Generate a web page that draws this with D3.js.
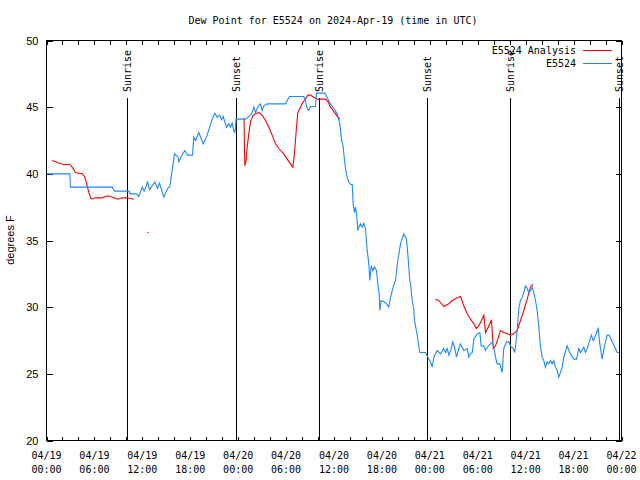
<!DOCTYPE html>
<html>
<head>
<meta charset="utf-8">
<script src="https://cdn.jsdelivr.net/npm/d3@7"></script>
<style>
  body { margin: 0; background: #fff; }
  text { fill: #000; }
</style>
</head>
<body>
<svg id="dewpoint_svg" width="640" height="480"></svg>
<script>
// Observed dew point for E5524, hours since 2024-04-19 00:00 UTC and degrees F
const obsHours = [0.0, 2.92, 3.0, 8.23, 8.51, 10.33, 10.52, 11.27, 11.56, 11.98, 12.23, 12.68, 12.9, 13.56, 13.9,
  14.15, 14.69, 15.15, 15.44, 15.65, 16.03, 16.49, 16.57, 16.87, 17.32, 17.66, 18.28, 18.44, 18.66, 19.07,
  19.62, 20.04, 20.75, 21.08, 21.38, 21.7, 21.91, 22.13, 22.54, 22.83, 23.04, 23.25, 23.45, 23.58, 23.7,
  23.73, 24.92, 25.54, 25.76, 25.96, 26.17, 26.38, 26.58, 26.8, 27.0, 27.21, 27.64, 29.93, 30.14, 30.43,
  32.22, 32.43, 32.64, 32.84, 33.06, 33.68, 33.81, 34.85, 35.15, 35.56, 35.98, 36.4, 36.73, 36.9, 37.15,
  37.32, 37.44, 37.65, 37.85, 38.07, 38.28, 38.4, 38.57, 38.69, 38.82, 38.9, 38.98, 39.11, 39.32, 39.53,
  39.73, 39.94, 40.16, 40.36, 40.48, 40.66, 40.86, 41.07, 41.32, 41.49, 41.66, 41.74, 41.91, 42.24, 42.58,
  42.86, 43.08, 43.41, 43.7, 43.99, 44.33, 44.74, 44.95, 45.08, 45.24, 45.49, 45.58, 45.79, 45.99, 46.08,
  46.42, 46.74, 47.46, 47.75, 48.08, 48.3, 48.5, 48.92, 49.34, 49.75, 49.96, 50.17, 50.38, 50.68, 50.88,
  51.09, 51.34, 51.63, 51.84, 52.05, 52.25, 52.68, 52.88, 53.09, 53.31, 53.51, 53.93, 54.26, 54.43, 54.76,
  54.97, 55.26, 55.6, 55.81, 56.01, 56.22, 56.43, 56.76, 57.06, 57.26, 57.6, 57.89, 58.1, 58.44, 58.64,
  58.94, 59.14, 59.35, 59.57, 59.77, 59.98, 60.19, 60.39, 60.61, 60.82, 61.02, 61.23, 61.44, 61.65, 61.86,
  62.07, 62.27, 62.48, 62.7, 62.9, 63.11, 63.32, 63.52, 63.74, 63.95, 64.15, 64.36, 64.58, 64.78, 65.2,
  65.4, 65.7, 66.03, 66.37, 66.65, 66.87, 67.28, 67.49, 67.78, 68.21, 68.46, 68.66, 68.96, 69.08, 69.28,
  69.58, 69.87, 70.21, 70.46, 70.83, 71.25, 71.46, 71.67];
const obsDewpt = [40.0, 40.0, 39.0, 39.0, 38.7, 38.7, 38.5, 38.5, 38.3, 39.0, 38.7, 39.4, 38.8, 39.4, 38.9,
  39.3, 38.25, 38.9, 39.05, 39.9, 41.5, 41.25, 40.9, 41.3, 41.75, 41.4, 41.4, 42.75, 42.5, 43.1,
  42.25, 42.75, 44.1, 44.55, 44.25, 44.4, 44.05, 44.3, 43.5, 43.75, 43.5, 43.8, 43.25, 43.1, 43.75,
  44.1, 44.1, 44.4, 44.6, 45.0, 44.6, 44.9, 45.1, 45.25, 44.75, 45.1, 45.25, 45.25, 45.5, 45.8,
  45.8, 45.4, 44.9, 44.75, 45.05, 45.05, 46.05, 46.05, 45.7, 45.25, 44.9, 44.5, 43.75, 42.75, 42.0,
  41.0, 40.4, 39.75, 39.4, 39.2, 39.2, 37.75, 37.1, 37.5, 37.0, 36.5, 35.75, 36.0, 36.25, 36.0,
  36.3, 35.9, 34.25, 33.25, 32.0, 33.1, 32.75, 33.0, 32.75, 31.75, 31.0, 29.75, 30.5, 30.4, 30.25,
  30.0, 30.75, 31.5, 32.0, 33.5, 34.75, 35.5, 35.25, 35.1, 34.0, 32.0, 31.75, 30.5, 29.9, 29.0,
  27.9, 26.6, 26.6, 26.25, 25.9, 25.5, 26.25, 26.75, 26.5, 26.9, 26.6, 26.9, 26.4, 26.9, 27.4,
  27.0, 26.25, 26.9, 27.25, 27.0, 26.75, 26.9, 26.25, 26.5, 26.6, 27.6, 28.0, 28.1, 27.1, 27.1,
  26.75, 27.05, 27.25, 27.4, 27.0, 26.25, 25.75, 25.75, 25.1, 26.9, 27.4, 27.4, 27.1, 26.9, 26.6,
  28.25, 29.9, 30.5, 30.75, 31.1, 31.6, 31.4, 31.1, 31.25, 31.5, 31.1, 30.5, 29.75, 28.5, 27.0,
  26.25, 26.0, 25.5, 25.9, 25.75, 26.0, 25.75, 26.0, 25.5, 25.25, 24.75, 25.1, 25.5, 26.25, 27.1,
  26.75, 26.4, 26.1, 26.1, 26.9, 26.6, 27.0, 26.6, 27.0, 27.9, 27.5, 27.75, 28.25, 28.4, 27.25,
  26.1, 27.1, 27.9, 27.9, 27.4, 26.9, 26.6, 26.6];

// Analysis dew point for E5524 (null marks a gap in the analysis)
const anaHours = [0.71, 1.13, 1.54, 2.17, 2.92, 3.22, 3.63, 4.04, 4.47, 4.76, 4.97, 5.3, 5.6, 6.14, 6.97,
  7.6, 8.01, 8.43, 8.93, 9.48, 10.1, 10.93, null,
  12.65, 12.8, null,
  24.73, 24.83, 25.0, 25.13, 25.33, 25.54, 25.88, 26.3, 26.58, 27.0, 27.42, 27.84, 28.26, 28.68, 29.09,
  29.71, 30.14, 30.55, 30.84, 31.05, 31.27, 31.47, 31.81, 32.14, 32.43, 32.72, 33.06, 33.47, 33.9, 34.94,
  35.27, 35.56, 35.9, 36.19, 36.48, 36.73, null,
  48.71, 49.12, 49.75, 50.38, 50.8, 51.43, 51.84, 52.25, 52.68, 53.09, 53.51, 53.81, 54.13, 54.47, 54.76,
  54.97, 55.31, 55.72, 55.94, 56.22, 56.51, 56.85, 57.26, 57.69, 58.1, 58.51, 58.94, 59.35, 59.77, 60.19,
  60.48, 60.69, 60.94];
const anaDewpt = [41.0, 40.9, 40.8, 40.7, 40.7, 40.5, 40.1, 40.05, 40.0, 39.8, 39.4, 38.6, 38.1, 38.2, 38.2,
  38.35, 38.3, 38.2, 38.1, 38.2, 38.2, 38.1, null,
  35.6, 35.6, null,
  44.2, 40.6, 41.0, 42.0, 43.0, 43.9, 44.4, 44.55, 44.6, 44.4, 44.0, 43.5, 42.9, 42.25, 41.9,
  41.5, 41.1, 40.75, 40.5, 41.5, 43.25, 44.6, 45.0, 45.4, 45.6, 45.9, 45.9, 45.75, 45.6, 45.6,
  45.4, 45.0, 44.75, 44.5, 44.25, 44.1, null,
  30.6, 30.5, 30.05, 30.25, 30.5, 30.7, 30.8, 30.1, 29.5, 29.1, 28.75, 28.4, 28.6, 29.0, 29.4,
  28.1, 28.5, 29.05, 26.9, 27.1, 27.6, 28.25, 28.1, 28.0, 27.9, 28.0, 28.25, 29.0, 29.75, 30.6,
  31.25, 31.6, 31.7];

// Sunrise / sunset marks (UTC)
const sunEvents = [
  { label: "Sunrise", time: "2024-04-19T10:09Z" },
  { label: "Sunset", time: "2024-04-19T23:44Z" },
  { label: "Sunrise", time: "2024-04-20T10:09Z" },
  { label: "Sunset", time: "2024-04-20T23:44Z" },
  { label: "Sunrise", time: "2024-04-21T10:09Z" },
  { label: "Sunset", time: "2024-04-21T23:44Z" },
];

const yTickValues = [20, 25, 30, 35, 40, 45, 50];
const seriesNames = ["E5524 Analysis", "E5524"];
const seriesColors = ["#ff0000", "#1e88ff"];

const startTime = Date.UTC(2024, 3, 19, 0, 0);
const toDate = (h) => new Date(startTime + h * 3600e3);

function drawDewPointChart() {
  const margin = { left: 46, right: 621, top: 40, bottom: 440 };
  const mono = "'DejaVu Sans Mono', monospace";
  const sans = "'Liberation Sans', Arial, sans-serif";

  const svg = d3.select("#dewpoint_svg");

  const x = d3
    .scaleUtc()
    .domain([toDate(0), toDate(72)])
    .range([margin.left + 0.5, margin.right + 0.5]);

  const y = d3
    .scaleLinear()
    .domain([20, 50])
    .range([margin.bottom + 0.5, margin.top + 0.5]);

  // Title
  svg
    .append("text")
    .attr("x", 333)
    .attr("y", 24)
    .attr("text-anchor", "middle")
    .style("font-family", mono)
    .style("font-size", "10px")
    .text("Dew Point for E5524 on 2024-Apr-19 (time in UTC)");

  // Ticks pointing inward on all four sides
  const xTicks = d3.utcHour.every(2);
  svg
    .append("g")
    .attr("transform", `translate(0,${margin.bottom + 0.5})`)
    .call(d3.axisBottom(x).ticks(xTicks).tickSizeInner(-4).tickSizeOuter(0).tickFormat(""));
  svg
    .append("g")
    .attr("transform", `translate(0,${margin.top + 0.5})`)
    .call(d3.axisTop(x).ticks(xTicks).tickSizeInner(-4).tickSizeOuter(0).tickFormat(""));

  svg
    .append("g")
    .attr("transform", `translate(${margin.left + 0.5},0)`)
    .call(d3.axisLeft(y).tickValues(yTickValues).tickSizeInner(-6).tickSizeOuter(0).tickPadding(8))
    .call((g) => g.selectAll("text").style("font-family", sans).style("font-size", "11px").attr("fill", "#000"));

  svg
    .append("g")
    .attr("transform", `translate(${margin.right + 0.5},0)`)
    .call(d3.axisRight(y).tickValues(yTickValues).tickSizeInner(-6).tickSizeOuter(0).tickFormat(""));

  svg.selectAll(".domain").remove();
  svg.selectAll(".tick line").attr("stroke", "#000").attr("shape-rendering", "crispEdges");

  // Two-line time labels every 6 hours
  const labelTimes = d3.utcHour.every(6).range(toDate(0), toDate(72.01));
  const fmtDay = d3.utcFormat("%m/%d");
  const fmtHour = d3.utcFormat("%H:%M");
  const xLabels = svg
    .append("g")
    .selectAll("text")
    .data(labelTimes)
    .enter()
    .append("text")
    .attr("text-anchor", "middle")
    .style("font-family", mono)
    .style("font-size", "10px");
  xLabels.append("tspan").attr("x", (d) => x(d)).attr("y", 459).text((d) => fmtDay(d));
  xLabels.append("tspan").attr("x", (d) => x(d)).attr("y", 473).text((d) => fmtHour(d));

  // Y axis label
  svg
    .append("text")
    .attr("transform", "translate(14,240) rotate(-90)")
    .attr("text-anchor", "middle")
    .style("font-family", sans)
    .style("font-size", "11px")
    .text("degrees F");

  // Sunrise / sunset vertical lines with labels
  const sunX = (d) => Math.floor(x(new Date(d.time))) + 0.5;
  const sun = svg
    .append("g")
    .selectAll("g")
    .data(sunEvents)
    .enter()
    .append("g");
  sun
    .append("line")
    .attr("x1", sunX)
    .attr("x2", sunX)
    .attr("y1", 98)
    .attr("y2", margin.bottom)
    .attr("stroke", "#000")
    .attr("shape-rendering", "crispEdges");
  sun
    .append("text")
    .attr("transform", (d) => `translate(${sunX(d)},92) rotate(-90)`)
    .attr("dy", "0.35em")
    .style("font-family", mono)
    .style("font-size", "10px")
    .text((d) => d.label);

  // Series lines
  const line = d3
    .line()
    .defined((d) => d.v != null)
    .x((d) => x(toDate(d.h)))
    .y((d) => y(d.v));

  const anaData = anaHours.map((h, i) => ({ h: h, v: h == null ? null : anaDewpt[i] }));
  const obsData = obsHours.map((h, i) => ({ h: h, v: obsDewpt[i] }));

  svg
    .append("path")
    .datum(anaData)
    .attr("d", line)
    .attr("fill", "none")
    .attr("stroke", seriesColors[0])
    .attr("stroke-width", 1.1);

  svg
    .append("path")
    .datum(obsData)
    .attr("d", line)
    .attr("fill", "none")
    .attr("stroke", seriesColors[1])
    .attr("stroke-width", 1.1);

  // Plot border
  svg
    .append("rect")
    .attr("x", margin.left + 0.5)
    .attr("y", margin.top + 0.5)
    .attr("width", margin.right - margin.left)
    .attr("height", margin.bottom - margin.top)
    .attr("fill", "none")
    .attr("stroke", "#000")
    .attr("shape-rendering", "crispEdges");

  // Legend
  const legend = svg
    .append("g")
    .selectAll("g")
    .data(seriesNames)
    .enter()
    .append("g")
    .attr("transform", (d, i) => `translate(0,${50 + i * 13})`);
  legend
    .append("text")
    .attr("x", 576)
    .attr("dy", "0.35em")
    .attr("text-anchor", "end")
    .style("font-family", mono)
    .style("font-size", "10px")
    .text((d) => d);
  legend
    .append("line")
    .attr("x1", 583)
    .attr("x2", 612)
    .attr("y1", 0.5)
    .attr("y2", 0.5)
    .attr("stroke", (d, i) => seriesColors[i])
    .attr("shape-rendering", "crispEdges");
}

drawDewPointChart();
</script>
</body>
</html>
